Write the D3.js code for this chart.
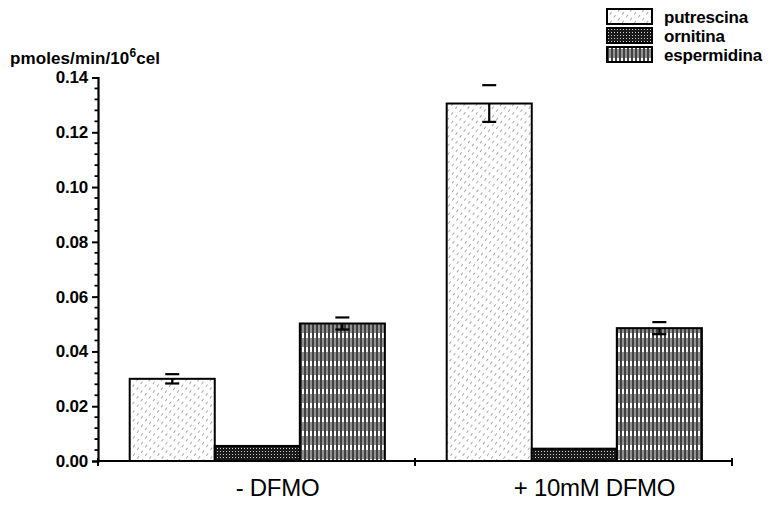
<!DOCTYPE html>
<html>
<head>
<meta charset="utf-8">
<script src="https://cdn.jsdelivr.net/npm/d3@7"></script>
<style>
  body { margin: 0; background: #fff; }
  svg { display: block; }
  text { font-family: "Liberation Sans", Arial, sans-serif; fill: #000; }
</style>
</head>
<body>
<svg id="chart" width="771" height="507"></svg>
<script>
// Treatment groups and measured series
const groups = ["- DFMO", "+ 10mM DFMO"];
const series = ["putrescina", "ornitina", "espermidina"];
const putrescina = [0.030, 0.1305];
const ornitina = [0.0055, 0.0045];
const espermidina = [0.0502, 0.0485];
const putrescinaErr = [0.0017, 0.0067];
const ornitinaErr = [0, 0];
const espermidinaErr = [0.0022, 0.0022];
const yTicks = [0.00, 0.02, 0.04, 0.06, 0.08, 0.10, 0.12, 0.14];

const values = { putrescina, ornitina, espermidina };
const errors = { putrescina: putrescinaErr, ornitina: ornitinaErr, espermidina: espermidinaErr };

const svg = d3.select("#chart");
const plotLeft = 98, plotRight = 732, plotTop = 77.5, plotBottom = 461;

const y = d3.scaleLinear().domain([0, 0.14]).range([plotBottom, plotTop]);
const x0 = d3.scaleBand().domain(groups).range([plotLeft, plotRight]);
const x1 = d3.scaleBand().domain(series)
  .range([x0.bandwidth() * 0.1, x0.bandwidth() * 0.905]);

// Fill patterns
const defs = svg.append("defs");

const pPut = defs.append("pattern").attr("id", "pat-put")
  .attr("patternUnits", "userSpaceOnUse").attr("width", 5).attr("height", 7)
  .attr("patternTransform", "rotate(35)");
pPut.append("rect").attr("width", 5).attr("height", 7).attr("fill", "#fff");
pPut.append("line").attr("x1", 0).attr("y1", 0).attr("x2", 0).attr("y2", 7)
  .attr("stroke", "#555").attr("stroke-width", 1).attr("stroke-dasharray", "3,4");

const pOrn = defs.append("pattern").attr("id", "pat-orn")
  .attr("patternUnits", "userSpaceOnUse").attr("width", 3).attr("height", 3);
pOrn.append("rect").attr("width", 3).attr("height", 3).attr("fill", "#1a1a1a");
pOrn.append("rect").attr("x", 1).attr("y", 1).attr("width", 1).attr("height", 1).attr("fill", "#ccc");

const pEsp = defs.append("pattern").attr("id", "pat-esp")
  .attr("patternUnits", "userSpaceOnUse").attr("width", 4).attr("height", 14);
pEsp.append("rect").attr("width", 4).attr("height", 14).attr("fill", "#fff");
pEsp.append("line").attr("x1", 1).attr("y1", 0).attr("x2", 1).attr("y2", 14)
  .attr("stroke", "#000").attr("stroke-width", 1.5);
pEsp.append("line").attr("x1", 3).attr("y1", 2).attr("x2", 3).attr("y2", 11)
  .attr("stroke", "#222").attr("stroke-width", 1);

const fills = { putrescina: "url(#pat-put)", ornitina: "url(#pat-orn)", espermidina: "url(#pat-esp)" };

// Bars
const g = svg.append("g");
groups.forEach((grp, gi) => {
  series.forEach(s => {
    const bx = x0(grp) + x1(s);
    const v = values[s][gi];
    g.append("rect")
      .attr("x", bx).attr("y", y(v))
      .attr("width", x1.bandwidth()).attr("height", y(0) - y(v))
      .attr("fill", fills[s]).attr("stroke", "#000").attr("stroke-width", 2);
  });
});

// Error bars
groups.forEach((grp, gi) => {
  series.forEach(s => {
    const e = errors[s][gi];
    if (!e) return;
    const cx = x0(grp) + x1(s) + x1.bandwidth() / 2;
    const v = values[s][gi];
    g.append("line").attr("x1", cx).attr("x2", cx)
      .attr("y1", y(v)).attr("y2", y(v - e))
      .attr("stroke", "#000").attr("stroke-width", 2.2);
    [v + e, v - e].forEach(t => {
      g.append("line").attr("x1", cx - 7).attr("x2", cx + 7)
        .attr("y1", y(t)).attr("y2", y(t))
        .attr("stroke", "#000").attr("stroke-width", 2.2);
    });
  });
});

// Y axis
const yAxis = svg.append("g").attr("transform", `translate(${plotLeft},0)`)
  .call(d3.axisLeft(y).tickValues(yTicks).tickFormat(d3.format(".2f"))
    .tickSize(6).tickPadding(4));
yAxis.select(".domain").attr("stroke-width", 2.2);
yAxis.selectAll(".tick line").attr("stroke-width", 2);
yAxis.selectAll("text").attr("font-size", 17).attr("font-weight", "bold")
  .attr("letter-spacing", -0.2);
const minor = d3.range(0, 0.1401, 0.004).filter(v => yTicks.every(t => Math.abs(t - v) > 1e-6));
yAxis.selectAll(".minor").data(minor).enter().append("line")
  .attr("x1", -3.5).attr("x2", 1).attr("y1", d => y(d)).attr("y2", d => y(d))
  .attr("stroke", "#000").attr("stroke-width", 1.8);

// X axis
const xAxis = svg.append("g").attr("transform", `translate(0,${plotBottom})`);
xAxis.append("line").attr("x1", plotLeft).attr("x2", plotRight)
  .attr("stroke", "#000").attr("stroke-width", 2.2);
[plotLeft, x0(groups[1]), plotRight].forEach(px => {
  xAxis.append("line").attr("x1", px).attr("x2", px).attr("y1", -3).attr("y2", 5)
    .attr("stroke", "#000").attr("stroke-width", 2);
});
const labelShift = 21;
xAxis.selectAll(".glabel").data(groups).enter().append("text")
  .attr("x", d => x0(d) + x0.bandwidth() / 2 + labelShift).attr("y", 35)
  .attr("text-anchor", "middle").attr("font-size", 24).attr("letter-spacing", -0.3)
  .text(d => d);

// Y axis title
const title = svg.append("text").attr("x", 10).attr("y", 64)
  .attr("font-size", 17).attr("font-weight", "bold").attr("letter-spacing", 0.1);
title.append("tspan").text("pmoles/min/10");
title.append("tspan").attr("dy", -7).attr("font-size", 12).text("6");
title.append("tspan").attr("dy", 7).text("cel");

// Legend
const leg = svg.append("g").attr("transform", "translate(607,9)");
series.forEach((s, i) => {
  const row = leg.append("g").attr("transform", `translate(0,${i * 19})`);
  row.append("rect").attr("width", 45).attr("height", 15)
    .attr("fill", fills[s]).attr("stroke", "#000").attr("stroke-width", 2);
  row.append("text").attr("x", 57).attr("y", 14)
    .attr("font-size", 17).attr("font-weight", "bold").attr("letter-spacing", -0.2)
    .text(s);
});
</script>
</body>
</html>
